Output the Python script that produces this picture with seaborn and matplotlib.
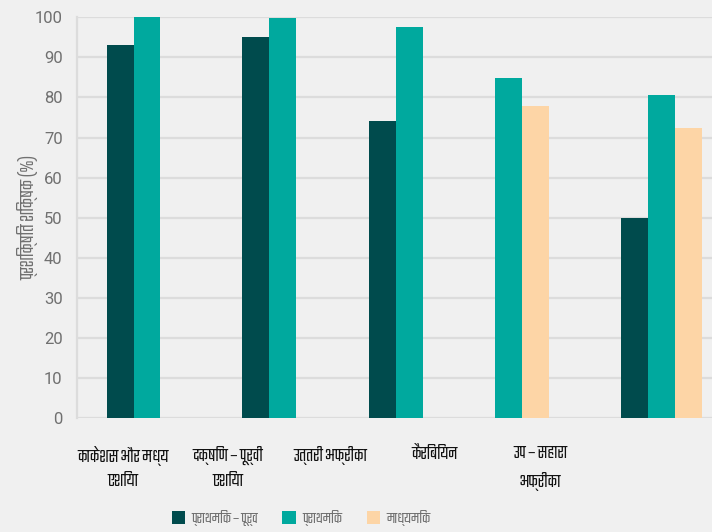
import numpy as np
import pandas as pd
import matplotlib
matplotlib.use("Agg")
import matplotlib.pyplot as plt
from matplotlib import font_manager
from matplotlib.ft2font import FT2Font
from matplotlib.patches import Patch
import seaborn as sns

# ---- data -------------------------------------------------------------
regions = ["काकेशस और मध्य\nएशिया", "दक्षिण – पूर्वी\nएशिया", "उत्तरी अफ्रीका",
           "कैरिबियन", "उप – सहारा\nअफ्रीका"]
series = ["प्राथमिक – पूर्व", "प्राथमिक", "माध्यमिक"]
pre_primary = [93.0, 95.0, 74.0, np.nan, 50.0]
primary = [100.0, 99.8, 97.5, 84.8, 80.5]
secondary = [np.nan, np.nan, np.nan, 77.8, 72.3]
y_ticks = [0, 10, 20, 30, 40, 50, 60, 70, 80, 90, 100]
y_label = "प्रशिक्षित शिक्षक (%)"

# ---- layout (in bar-width units along x) ------------------------------
group_start = [1.10, 6.15, 10.90, 15.60, 20.30]
label_pos = [1.70, 5.62, 9.43, 13.31, 17.27]
x_max = 23.68

colors = ["#004b4d", "#00a99e", "#fdd5a6"]
bg = "#f0f0f0"
grid_c = "#dcdcdc"


def devanagari_family(sample="काकेशस और मध्य"):
    """Narrowest installed regular-weight family that covers Devanagari."""
    best, best_w = None, None
    for f in font_manager.fontManager.ttflist:
        if f.style != "normal":
            continue
        try:
            ft = FT2Font(f.fname)
            if 0x0915 not in ft.get_charmap():
                continue
            ft.set_size(12, 72)
            ft.set_text(sample, 0.0)
            w = ft.get_width_height()[0]
        except Exception:
            continue
        if best_w is None or w < best_w:
            best, best_w = f.name, w
    return best


# bars are packed side by side inside each region, skipping missing values
rows = []
for i, region in enumerate(regions):
    slot = 0
    for name, vals in zip(series, [pre_primary, primary, secondary]):
        v = vals[i]
        if np.isnan(v):
            continue
        rows.append({"pos": group_start[i] + 0.5 + slot, "value": v,
                     "series": name, "region": region})
        slot += 1
df = pd.DataFrame(rows)

sns.set_style("white", {"axes.facecolor": bg, "figure.facecolor": bg})
deva = devanagari_family()
families = ([deva] if deva else []) + ["Roboto", "DejaVu Sans"]
plt.rcParams["font.family"] = families

fig = plt.figure(figsize=(7.12, 5.32), dpi=100)
ax = fig.add_axes([77.3 / 712, (532 - 418.3) / 532, (712 - 77.3) / 712, 401.1 / 532])

sns.barplot(data=df, x="pos", y="value", hue="series", hue_order=series,
            palette=colors, native_scale=True, dodge=False, width=1.0,
            saturation=1, linewidth=0, legend=False, ax=ax)

ax.set_xlim(0, x_max)
ax.set_ylim(0, 100)
ax.set_yticks(y_ticks)
ax.set_yticklabels([str(t) for t in y_ticks], family=["Roboto", "DejaVu Sans"])
ax.set_xticks(label_pos)
ax.set_xticklabels(regions, fontsize=13.5, color="#111111", fontweight="bold",
                   linespacing=1.7)
ax.tick_params(axis="x", length=0, pad=20)
ax.tick_params(axis="y", length=4.5, width=1.5, color=grid_c, pad=6,
               labelsize=12, labelcolor="#707070")

ax.yaxis.grid(True, color=grid_c, linewidth=1.6)
ax.set_axisbelow(True)
for s in ["top", "right", "bottom"]:
    ax.spines[s].set_visible(False)
ax.spines["left"].set_color(grid_c)
ax.spines["left"].set_linewidth(1.6)

ax.set_xlabel("")
ax.set_ylabel(y_label, fontsize=14.5, color="#707070")
ax.yaxis.set_label_coords(-0.061, 0.5)

handles = [Patch(facecolor=c, edgecolor="none") for c in colors]
fig.legend(handles, series, loc="center", bbox_to_anchor=(301 / 712, 14 / 532),
           ncol=3, frameon=False, fontsize=11.5, labelcolor="#707070",
           handlelength=0.82, handleheight=0.82, handletextpad=0.4,
           columnspacing=1.55, borderaxespad=0)

fig.savefig("out.png", dpi=100, facecolor=bg)
